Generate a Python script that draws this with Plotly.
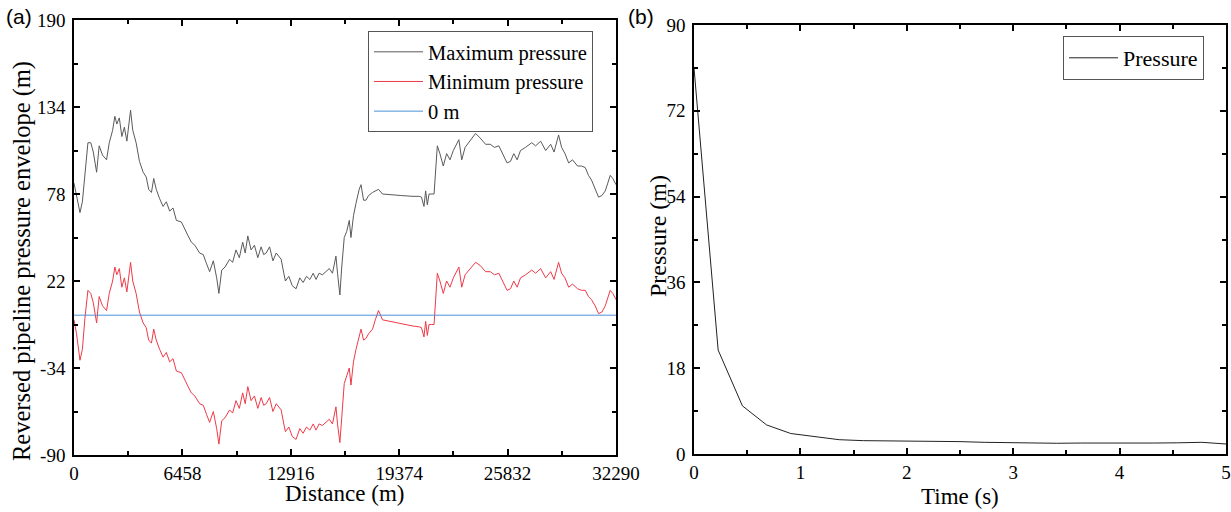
import plotly.graph_objects as go

# ---- Panel (a) data ----
distance = [0, 150, 356, 500, 650, 830, 1000, 1150, 1347, 1500, 1700, 1940, 2100, 2300, 2435, 2550, 2700, 2850,
            3000, 3150, 3370, 3500, 3700, 3900, 4120, 4300, 4450, 4615, 4750, 4900, 5100, 5307, 5500, 5700, 5900,
            6100, 6396, 6600, 6800, 6990, 7200, 7485, 7700, 7900, 8080, 8300, 8500, 8632, 8800, 9000, 9268, 9450,
            9650, 9850, 10050, 10200, 10355, 10550, 10750, 10950, 11150, 11300, 11448, 11650, 11850, 12050, 12340,
            12500, 12595, 12800, 13000, 13230, 13450, 13650, 13850, 14050, 14250, 14420, 14600, 14800, 15000, 15210,
            15400, 15605, 15700, 15840, 15950, 16100, 16250, 16400, 16500, 16650, 16800, 16990, 17100, 17250, 17390,
            17550, 17785, 17950, 18140, 18380, 18800, 19500, 20200, 20560, 20700, 20850, 20950, 21050, 21150, 21310,
            21450, 21645, 21800, 22000, 22200, 22400, 22600, 22930, 23100, 23300, 23600, 23925, 24200, 24520, 24800,
            25050, 25310, 25550, 25800, 26005, 26200, 26400, 26600, 26900, 27270, 27500, 27800, 28100, 28400, 28600,
            28870, 29050, 29250, 29470, 29700, 30000, 30240, 30460, 30650, 30830, 31050, 31250, 31450, 31650, 31800,
            31945, 32100, 32290]

max_pressure = [85, 76, 66, 73, 93, 111, 111, 105, 92, 109, 103, 100, 111, 119, 128, 123, 127, 115,
                121, 112, 132, 119, 111, 99, 92, 89, 81, 79, 88, 81, 75, 70, 73, 67, 69,
                61, 60, 55, 51, 47, 45, 40, 39, 33, 28, 35, 24, 14, 29, 31, 36, 34,
                42, 37, 47, 40, 51, 42, 45, 37, 44, 39, 40, 44, 35, 40, 36,
                27, 22, 25, 19, 17, 24, 21, 25, 23, 27, 23, 27, 26, 28, 30,
                27, 38, 27, 13, 31, 50, 54, 61, 50, 64, 72, 81, 84, 74, 74,
                77, 79, 80, 81, 78, 77.5, 77, 76.5, 76.5, 76, 70, 80, 71, 78, 78,
                78, 109, 104, 96, 104, 100, 106, 113, 100, 108, 112, 117, 114, 110, 110,
                108, 109, 104, 98, 99, 104, 100, 106, 108, 111, 109, 112, 106, 110, 105,
                116, 108, 104, 98, 100, 96, 96, 95, 90, 87, 81, 76, 77, 80, 85,
                90, 88, 84]

min_pressure = [-3, -12, -29, -22, -2, 16, 14, 8, -5, 12, 6, 3, 14, 22, 31, 26, 30, 18,
                24, 15, 34, 22, 14, 2, -5, -8, -16, -18, -9, -16, -22, -27, -24, -30, -28,
                -36, -37, -42, -46, -50, -52, -57, -58, -64, -69, -62, -73, -83, -68, -66, -61, -63,
                -55, -60, -50, -57, -46, -55, -52, -60, -53, -58, -57, -53, -62, -57, -61,
                -70, -75, -72, -78, -80, -73, -76, -72, -74, -70, -74, -70, -71, -69, -67,
                -70, -59, -70, -82, -66, -44, -39, -34, -45, -30, -22, -14, -9, -16, -15,
                -12, -9, -3, 3, -3, -4, -5.5, -7, -7.5, -8, -14, -4, -13, -6, -6,
                -6, 27, 22, 14, 22, 18, 24, 31, 18, 26, 30, 34, 32, 28, 28,
                26, 27, 22, 16, 17, 22, 18, 24, 26, 29, 27, 30, 24, 28, 23,
                34, 27, 24, 18, 20, 17, 16, 16, 12, 10, 6, 1, 2, 6, 11,
                16, 14, 10]

zero_x = [0, 32290]
zero_y = [0, 0]

dist_ticks = [0, 6458, 12916, 19374, 25832, 32290]
dist_labels = ["0", "6458", "12916", "19374", "25832", "32290"]
env_ticks = [-90, -34, 22, 78, 134, 190]
env_labels = ["-90", "-34", "22", "78", "134", "190"]

# ---- Panel (b) data ----
time_s = [0, 0.227, 0.455, 0.682, 0.909, 1.136, 1.364, 1.591, 1.818, 2.045, 2.273, 2.5, 2.727, 2.955,
          3.182, 3.409, 3.636, 3.864, 4.091, 4.318, 4.545, 4.773, 5.0]
pressure = [81, 21.8, 10.1, 6.1, 4.3, 3.6, 3.0, 2.8, 2.75, 2.75, 2.8, 2.6, 2.45, 2.4,
            2.2, 2.25, 2.3, 2.25, 2.25, 2.3, 2.35, 2.45, 2.1]
time_ticks = [0, 1, 2, 3, 4, 5]
p_ticks = [0, 18, 36, 54, 72, 90]

SERIF = "Liberation Serif"

fig = go.Figure()
fig.add_trace(go.Scatter(x=distance, y=max_pressure, mode="lines", name="Maximum pressure",
                         line=dict(color="#5a5a5a", width=1), xaxis="x", yaxis="y"))
fig.add_trace(go.Scatter(x=distance, y=min_pressure, mode="lines", name="Minimum pressure",
                         line=dict(color="#ee3a48", width=1), xaxis="x", yaxis="y"))
fig.add_trace(go.Scatter(x=zero_x, y=zero_y, mode="lines", name="0 m",
                         line=dict(color="#4a90d9", width=1), xaxis="x", yaxis="y"))
fig.add_trace(go.Scatter(x=time_s, y=pressure, mode="lines", name="Pressure",
                         line=dict(color="#222222", width=1), xaxis="x2", yaxis="y2", legend="legend2"))

axis_common = dict(showline=True, linecolor="black", linewidth=1.5, mirror="ticks", ticks="inside",
                   ticklen=6, tickwidth=1.5, tickcolor="black", showgrid=False, zeroline=False,
                   automargin=False, tickfont=dict(family=SERIF, size=19, color="black"))

def title_ann(text, x, y, size, angle=0):
    return dict(text=text, x=x/1231, y=1-y/512, xref="paper", yref="paper", xanchor="center",
                yanchor="middle", textangle=angle, showarrow=False,
                font=dict(family=SERIF, size=size, color="black"))

fig.update_layout(
    width=1231, height=512,
    margin=dict(l=0, r=0, t=0, b=0),
    paper_bgcolor="white", plot_bgcolor="white",
    font=dict(family=SERIF, color="black"),
    xaxis=dict(domain=[74/1231, 616/1231], range=[0, 32290], tickvals=dist_ticks, ticktext=dist_labels,
               anchor="y", ticklabelstandoff=0,
               minor=dict(ticks="inside", ticklen=4, tickwidth=1.5, dtick=3229, tick0=0, tickcolor="black"),
               **axis_common),
    yaxis=dict(domain=[1-455/512, 1-20/512], range=[-90, 190], tickvals=env_ticks, ticktext=env_labels,
               anchor="x", ticklabelstandoff=3,
               minor=dict(ticks="inside", ticklen=4, tickwidth=1.5, dtick=28, tick0=-90, tickcolor="black"),
               **axis_common),
    xaxis2=dict(domain=[694/1231, 1226/1231], range=[0, 5], tickvals=time_ticks, anchor="y2",
                ticklabelstandoff=0,
                minor=dict(ticks="inside", ticklen=4, tickwidth=1.5, dtick=0.5, tick0=0, tickcolor="black"),
                **axis_common),
    yaxis2=dict(domain=[1-454/512, 1-25/512], range=[0, 90], tickvals=p_ticks, anchor="x2",
                ticklabelstandoff=3,
                minor=dict(ticks="inside", ticklen=4, tickwidth=1.5, dtick=9, tick0=0, tickcolor="black"),
                **axis_common),
    legend=dict(x=368/1231, y=1-31/512, xanchor="left", yanchor="top", bgcolor="rgba(255,255,255,0)",
                bordercolor="#555555", borderwidth=1, font=dict(family=SERIF, size=20.5),
                tracegroupgap=0, itemwidth=49),
    legend2=dict(x=1063/1231, y=1-36/512, xanchor="left", yanchor="top", bgcolor="rgba(255,255,255,0)",
                 bordercolor="#555555", borderwidth=1, font=dict(family=SERIF, size=22), itemwidth=49),
    annotations=[
        dict(text="(a)", x=4/1231, y=1-16/512, xref="paper", yref="paper", xanchor="left", yanchor="middle",
             showarrow=False, font=dict(family="Liberation Sans", size=21, color="black")),
        dict(text="(b)", x=626/1231, y=1-16/512, xref="paper", yref="paper", xanchor="left", yanchor="middle",
             showarrow=False, font=dict(family="Liberation Sans", size=21, color="black")),
        title_ann("Reversed pipeline pressure envelope (m)", 22, 261, 24.5, -90),
        title_ann("Pressure (m)", 658, 236, 24, -90),
        title_ann("Distance (m)", 345, 493, 23),
        title_ann("Time (s)", 960, 496, 23),
    ],
)

fig.write_html("out.html")
